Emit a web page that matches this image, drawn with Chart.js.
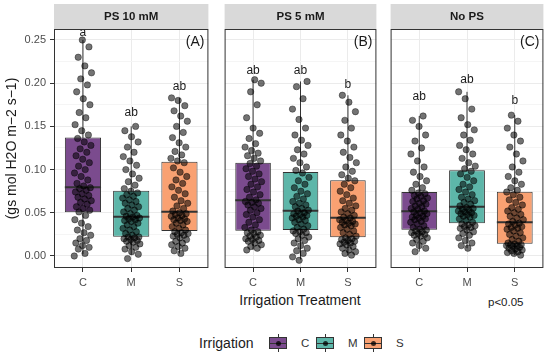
<!DOCTYPE html>
<html><head><meta charset="utf-8">
<script src="https://cdn.jsdelivr.net/npm/chart.js@4.4.1/dist/chart.umd.min.js"></script>
<style>
html,body{margin:0;padding:0;background:#fff;}
#wrap{position:relative;width:550px;height:357px;overflow:hidden;font-family:"Liberation Sans",Arial,sans-serif;color:#1a1a1a;}
canvas{position:absolute;top:0;}
.txt{position:absolute;white-space:nowrap;}
.key{position:absolute;width:18px;height:18px;top:334px;}
.key .w{position:absolute;left:8.5px;top:0;width:1px;height:18px;background:#333;}
.key .b{position:absolute;left:0;top:3px;width:16px;height:10px;border:1px solid #333;}
.key .m{position:absolute;left:0;top:8.5px;width:18px;height:1.3px;background:#333;}
.key .d{position:absolute;left:6.5px;top:6.5px;width:5px;height:5px;border-radius:50%;background:rgba(0,0,0,0.75);}
</style></head><body><div id="wrap">
<canvas id="cA" style="left:0px" width="213" height="292"></canvas>
<canvas id="cB" style="left:220px" width="161" height="292"></canvas>
<canvas id="cC" style="left:386px" width="162" height="292"></canvas>
<div class="txt" style="left:200px;top:292px;width:200px;text-align:center;font-size:14px;line-height:16px;">Irrigation Treatment</div>
<div class="txt" style="left:488px;top:295px;font-size:11.5px;line-height:14px;">p&lt;0.05</div>
<div class="txt" style="left:199px;top:335px;font-size:14px;line-height:16px;">Irrigation</div>
<div class="key" style="left:269px;"><div class="w"></div><div class="b" style="background:#7B4B8E"></div><div class="m"></div><div class="d"></div></div>
<div class="txt" style="left:301px;top:336px;font-size:11.5px;line-height:14px;color:#333">C</div>
<div class="key" style="left:316px;"><div class="w"></div><div class="b" style="background:#5DB6A9"></div><div class="m"></div><div class="d"></div></div>
<div class="txt" style="left:348px;top:336px;font-size:11.5px;line-height:14px;color:#333">M</div>
<div class="key" style="left:364px;"><div class="w"></div><div class="b" style="background:#F9A172"></div><div class="m"></div><div class="d"></div></div>
<div class="txt" style="left:396px;top:336px;font-size:11.5px;line-height:14px;color:#333">S</div>
</div>
<script>
const PANELS = ['PS 10 mM', 'PS 5 mM', 'No PS'];
const TAGS = ['(A)', '(B)', '(C)'];
const CATEGORIES = ['C', 'M', 'S'];
const Y_TICKS = [0, 0.05, 0.10, 0.15, 0.20, 0.25];
const Y_TITLE = '(gs mol H2O m\u22122 s\u22121)';

// box statistics per panel [C, M, S]
const Q1  = [[0.0505, 0.0224, 0.029], [0.0293, 0.030, 0.0216], [0.0305, 0.0378, 0.0142]];
const MED = [[0.0795, 0.0455, 0.0513], [0.0644, 0.0525, 0.0444], [0.0517, 0.0571, 0.039]];
const Q3  = [[0.137, 0.0756, 0.109], [0.108, 0.0972, 0.0876], [0.074, 0.0992, 0.0744]];
const WLO = [[0.002, 0.001, 0.003], [0.007, -0.004, 0.001], [0.005, 0.009, 0.001]];
const WHI = [[0.250, 0.150, 0.183], [0.204, 0.202, 0.186], [0.162, 0.190, 0.163]];
const LETTERS = [['a', 'ab', 'ab'], ['ab', 'ab', 'b'], ['ab', 'ab', 'b']];
const LETTER_Y = [[0.259, 0.166, 0.196], [0.215, 0.215, 0.198], [0.184, 0.204, 0.180]];

// individual observations (jittered points)
const A_C = [0.000,0.003,0.008,0.010,0.012,0.015,0.018,0.020,0.024,0.027,0.030,0.034,0.038,0.042,0.047,
0.051,0.053,0.055,0.057,0.060,0.062,0.064,0.066,0.068,0.070,0.072,0.074,0.076,0.078,0.079,
0.081,0.084,0.088,0.092,0.096,0.100,0.104,0.108,0.112,0.116,0.120,0.124,0.128,0.132,0.136,
0.140,0.145,0.152,0.160,0.166,0.175,0.182,0.190,0.198,0.205,0.212,0.220,0.230,0.242,0.250];
const A_M = [-0.003,0.002,0.005,0.008,0.010,0.012,0.014,0.016,0.017,0.018,0.019,0.020,0.021,0.022,0.022,
0.024,0.026,0.028,0.030,0.032,0.034,0.036,0.038,0.040,0.041,0.042,0.043,0.044,0.045,0.046,
0.047,0.049,0.051,0.053,0.055,0.057,0.059,0.061,0.063,0.065,0.067,0.069,0.071,0.073,0.075,
0.078,0.082,0.086,0.090,0.095,0.100,0.105,0.110,0.115,0.120,0.126,0.132,0.138,0.145,0.150];
const A_S = [0.003,0.006,0.009,0.011,0.013,0.015,0.017,0.019,0.021,0.023,0.024,0.025,0.026,0.027,0.028,
0.030,0.032,0.034,0.036,0.038,0.040,0.041,0.042,0.043,0.044,0.046,0.047,0.048,0.049,0.050,
0.052,0.055,0.058,0.061,0.064,0.068,0.072,0.076,0.080,0.084,0.088,0.092,0.097,0.102,0.108,
0.110,0.113,0.117,0.121,0.126,0.131,0.137,0.143,0.150,0.156,0.162,0.168,0.174,0.180,0.183];
const B_C = [0.007,0.009,0.011,0.013,0.015,0.017,0.018,0.019,0.020,0.022,0.023,0.024,0.026,0.027,0.028,
0.030,0.033,0.036,0.039,0.042,0.045,0.048,0.050,0.053,0.055,0.057,0.059,0.061,0.062,0.063,
0.065,0.068,0.071,0.074,0.077,0.080,0.083,0.086,0.089,0.092,0.095,0.098,0.101,0.104,0.107,
0.110,0.113,0.116,0.119,0.122,0.126,0.130,0.136,0.142,0.148,0.160,0.175,0.190,0.200,0.204];
const B_M = [-0.005,-0.001,0.003,0.006,0.009,0.012,0.015,0.018,0.020,0.022,0.024,0.026,0.027,0.028,0.029,
0.031,0.033,0.035,0.037,0.039,0.041,0.042,0.044,0.045,0.046,0.047,0.048,0.049,0.050,0.052,
0.053,0.055,0.057,0.059,0.061,0.063,0.066,0.069,0.072,0.075,0.079,0.083,0.087,0.091,0.096,
0.099,0.103,0.108,0.113,0.118,0.123,0.128,0.134,0.140,0.148,0.158,0.170,0.182,0.196,0.202];
const B_S = [0.001,0.003,0.005,0.007,0.009,0.011,0.013,0.014,0.015,0.016,0.017,0.018,0.019,0.020,0.021,
0.023,0.025,0.027,0.029,0.031,0.033,0.035,0.036,0.037,0.038,0.039,0.040,0.041,0.042,0.044,
0.045,0.047,0.049,0.051,0.053,0.055,0.058,0.061,0.064,0.067,0.071,0.075,0.079,0.083,0.087,
0.090,0.094,0.098,0.103,0.108,0.114,0.120,0.126,0.133,0.140,0.148,0.157,0.167,0.178,0.186];
const C_C = [0.005,0.009,0.012,0.015,0.017,0.019,0.021,0.023,0.024,0.025,0.026,0.027,0.028,0.029,0.030,
0.031,0.033,0.035,0.037,0.039,0.040,0.042,0.043,0.044,0.045,0.046,0.047,0.049,0.050,0.051,
0.052,0.054,0.055,0.057,0.058,0.060,0.061,0.063,0.064,0.066,0.067,0.069,0.070,0.072,0.073,
0.076,0.079,0.083,0.087,0.092,0.097,0.103,0.110,0.118,0.125,0.133,0.140,0.150,0.157,0.162];
const C_M = [0.009,0.012,0.015,0.018,0.021,0.024,0.026,0.028,0.030,0.032,0.033,0.034,0.035,0.036,0.037,
0.039,0.041,0.043,0.045,0.046,0.047,0.048,0.049,0.050,0.051,0.052,0.053,0.054,0.055,0.056,
0.058,0.060,0.062,0.064,0.066,0.068,0.071,0.074,0.077,0.080,0.083,0.087,0.091,0.095,0.098,
0.101,0.104,0.108,0.113,0.118,0.123,0.128,0.134,0.140,0.146,0.152,0.160,0.170,0.182,0.190];
const C_S = [0.001,0.003,0.004,0.005,0.006,0.007,0.008,0.009,0.010,0.011,0.012,0.012,0.013,0.013,0.014,
0.015,0.017,0.019,0.021,0.023,0.025,0.027,0.029,0.031,0.032,0.033,0.034,0.036,0.037,0.038,
0.040,0.042,0.044,0.046,0.048,0.050,0.052,0.054,0.056,0.059,0.062,0.065,0.068,0.071,0.074,
0.076,0.079,0.083,0.087,0.092,0.097,0.103,0.110,0.118,0.126,0.133,0.140,0.148,0.156,0.163];
const POINTS = [[A_C, A_M, A_S], [B_C, B_M, B_S], [C_C, C_M, C_S]];

const COLORS = ['#7B4B8E', '#5DB6A9', '#F9A172'];
const BOX_W = 0.75, JITTER_W = 0.36;
const Y_MIN = -0.0139, Y_MAX = 0.2627;
const FONT = '"Liberation Sans", Arial, sans-serif';

const isMajor = v => Y_TICKS.some(t => Math.abs(t - v) < 1e-9);

const facetPlugin = {
  id: 'facet',
  beforeDraw(chart, args, o) {
    const {ctx, chartArea: a} = chart;
    ctx.save();
    ctx.fillStyle = '#D9D9D9';
    ctx.fillRect(a.left, 4, a.right - a.left, a.top - 4);
    ctx.fillStyle = '#1A1A1A';
    ctx.font = 'bold 11.5px ' + FONT;
    ctx.textAlign = 'center'; ctx.textBaseline = 'middle';
    ctx.fillText(o.title, (a.left + a.right) / 2, (4 + a.top) / 2 + 0.5);
    ctx.restore();
  },
  afterDatasetsDraw(chart, args, o) {
    const {ctx, chartArea: a, scales: {x, y}} = chart;
    ctx.save();
    ctx.fillStyle = '#1A1A1A';
    ctx.font = '12px ' + FONT;
    ctx.textAlign = 'center'; ctx.textBaseline = 'middle';
    o.letters.forEach((t, g) => ctx.fillText(t, x.getPixelForValue(g + 1), y.getPixelForValue(o.letterY[g])));
    ctx.font = '14px ' + FONT;
    ctx.textAlign = 'right';
    ctx.fillText(o.tag, a.right - 4, a.top + 13);
    ctx.strokeStyle = '#333'; ctx.lineWidth = 1;
    ctx.strokeRect(a.left + 0.5, a.top + 0.5, a.right - a.left - 1, a.bottom - a.top - 1);
    ctx.restore();
  }
};

function makePanel(p, id, showY) {
  const xs = CATEGORIES.map((c, i) => i + 1);
  const pts = [];
  POINTS[p].forEach((arr, g) => arr.forEach((v, i) => {
    const j = ((i * 0.618034 + g * 0.29 + p * 0.13) % 1) - 0.5;
    pts.push({x: g + 1 + j * JITTER_W, y: v});
  }));
  const whisk = [], meds = [];
  xs.forEach((x, g) => {
    whisk.push({x, y: WLO[p][g]}, {x, y: WHI[p][g]}, {x, y: null});
    meds.push({x: x - BOX_W / 2, y: MED[p][g]}, {x: x + BOX_W / 2, y: MED[p][g]}, {x, y: null});
  });
  return new Chart(document.getElementById(id), {
    type: 'bar',
    data: {datasets: [
      {type: 'scatter', data: pts, backgroundColor: 'rgba(0,0,0,0.55)', borderColor: 'rgba(0,0,0,0.65)', borderWidth: 0.6, pointRadius: 3.2, order: 0},
      {type: 'line', data: meds, borderColor: '#333', borderWidth: 2, pointRadius: 0, order: 1},
      {type: 'bar', data: xs.map((x, g) => ({x, y: [Q1[p][g], Q3[p][g]]})), backgroundColor: COLORS, borderColor: '#333', borderWidth: 1, borderSkipped: false, barPercentage: BOX_W, categoryPercentage: 1, order: 2},
      {type: 'line', data: whisk, borderColor: '#333', borderWidth: 1, pointRadius: 0, order: 3}
    ]},
    options: {
      responsive: false, animation: false, events: [],
      layout: {padding: {top: 29, left: showY ? 0 : 1, right: 1, bottom: 0}},
      plugins: {legend: {display: false}, tooltip: {enabled: false},
        facet: {title: PANELS[p], tag: TAGS[p], letters: LETTERS[p], letterY: LETTER_Y[p]}},
      scales: {
        x: {type: 'linear', min: 0.4, max: 3.6, offset: false,
          afterBuildTicks: s => { s.ticks = xs.map(v => ({value: v})); },
          afterFit: s => { s.height = 24; },
          grid: {color: '#EBEBEB', tickColor: '#333', tickLength: 4, offset: false},
          border: {display: false},
          ticks: {callback: v => CATEGORIES[v - 1], color: '#4D4D4D', font: {size: 11, family: FONT}, padding: 4, maxRotation: 0, autoSkip: false}},
        y: {type: 'linear', min: Y_MIN, max: Y_MAX,
          afterBuildTicks: s => {
            const t = [];
            Y_TICKS.forEach((v, i) => { t.push({value: v}); if (i < Y_TICKS.length - 1) t.push({value: (v + Y_TICKS[i + 1]) / 2}); });
            s.ticks = t;
          },
          afterFit: s => { s.width = showY ? 54 : 0; },
          grid: {color: c => (c.tick && isMajor(c.tick.value)) ? '#EBEBEB' : '#F5F5F5',
                 tickColor: c => (c.tick && isMajor(c.tick.value)) ? '#333' : 'rgba(0,0,0,0)',
                 tickLength: 4, drawTicks: showY},
          border: {display: false},
          ticks: {display: showY, callback: v => isMajor(v) ? v.toFixed(2) : '', color: '#4D4D4D', font: {size: 11, family: FONT}, padding: 4, autoSkip: false},
          title: {display: showY, text: Y_TITLE, color: '#1A1A1A', font: {size: 14, family: FONT}, padding: {top: 4, bottom: 0}}}
      }
    },
    plugins: [facetPlugin]
  });
}
makePanel(0, 'cA', true);
makePanel(1, 'cB', false);
makePanel(2, 'cC', false);
</script>
</body></html>
